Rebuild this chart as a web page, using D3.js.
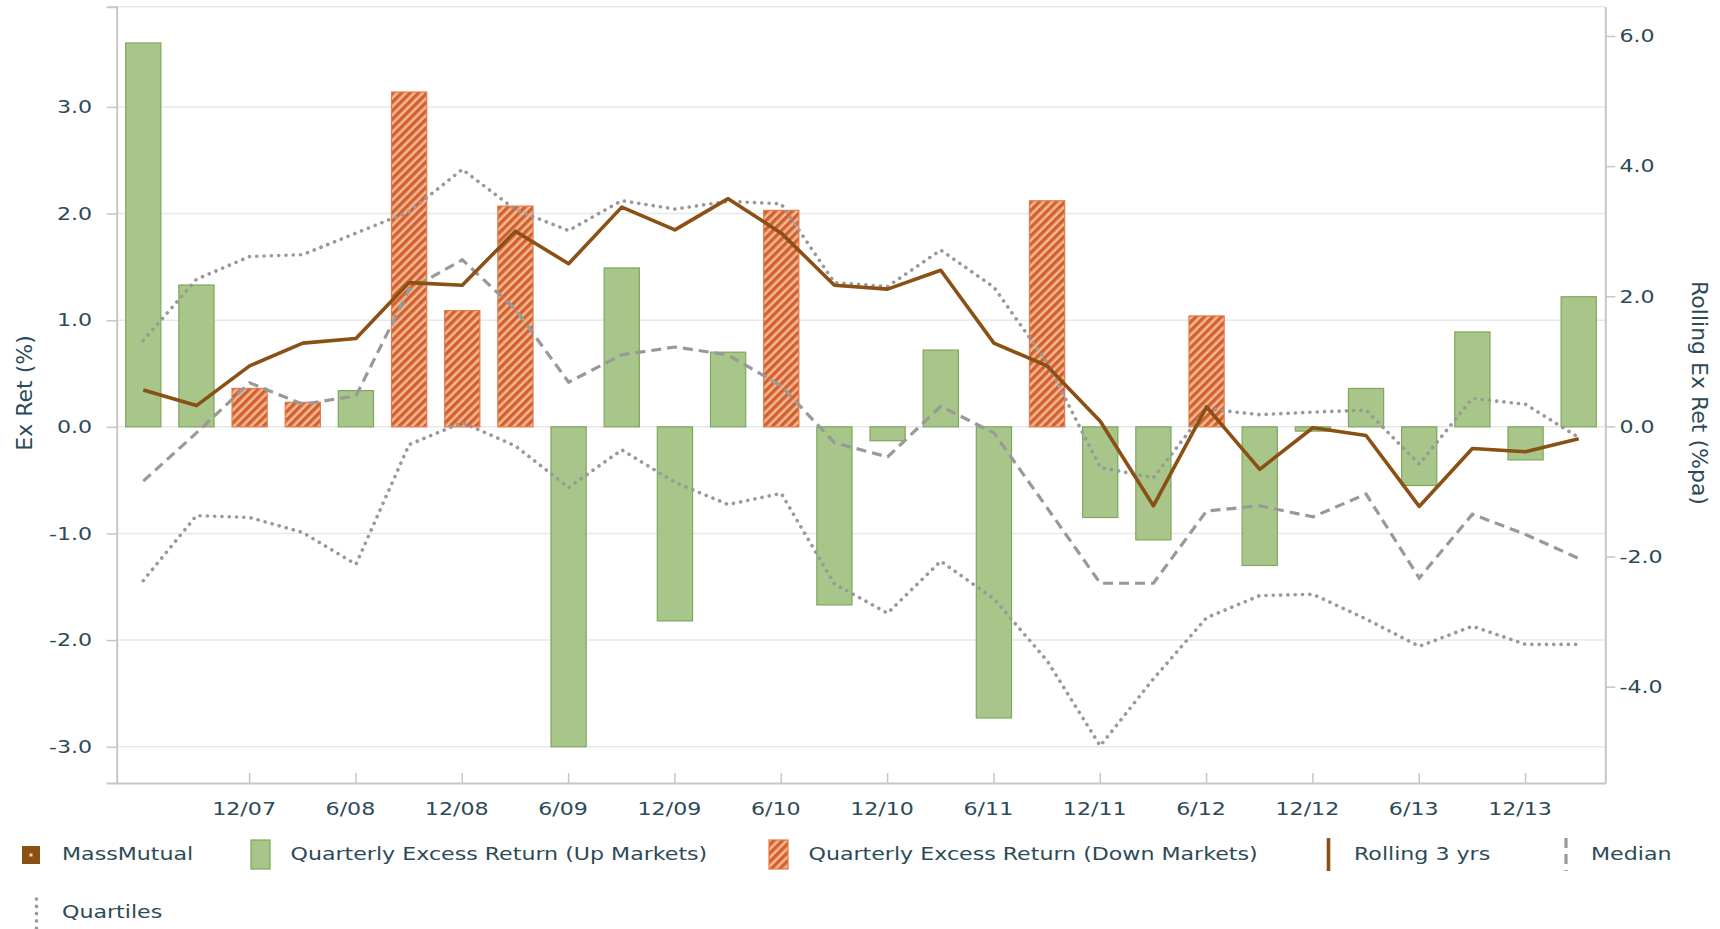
<!DOCTYPE html>
<html><head><meta charset="utf-8">
<script src="https://cdn.jsdelivr.net/npm/d3@7"></script>
<style>
html,body{margin:0;padding:0;background:#fff;}
svg{display:block;}
text{font-family:"DejaVu Sans",Verdana,sans-serif;fill:#2c4a57;}
</style></head><body>
<svg id="chart" width="1720" height="929"></svg>
<script>
// ---------------- data ----------------
const quarters = ["6/07","9/07","12/07","3/08","6/08","9/08","12/08","3/09","6/09","9/09","12/09","3/10","6/10","9/10","12/10","3/11","6/11","9/11","12/11","3/12","6/12","9/12","12/12","3/13","6/13","9/13","12/13","3/14"];
const excessReturn = [3.60,1.33,0.36,0.23,0.34,3.14,1.09,2.07,-3.00,1.49,-1.82,0.70,2.03,-1.67,-0.13,0.72,-2.73,2.12,-0.85,-1.06,1.04,-1.30,-0.04,0.36,-0.55,0.89,-0.31,1.22];
const marketDir = ["up","up","down","down","up","down","down","down","up","up","up","up","down","up","up","up","up","down","up","up","down","up","up","up","up","up","up","up"];
const rolling3y = [0.56,0.32,0.93,1.28,1.35,2.21,2.17,3.00,2.50,3.37,3.02,3.50,2.97,2.17,2.11,2.40,1.28,0.93,0.08,-1.22,0.30,-0.66,-0.02,-0.14,-1.23,-0.34,-0.39,-0.19];
const median = [-0.84,-0.10,0.67,0.34,0.47,2.10,2.56,1.80,0.68,1.10,1.22,1.10,0.62,-0.25,-0.47,0.31,-0.10,-1.25,-2.41,-2.41,-1.30,-1.22,-1.39,-1.04,-2.33,-1.35,-1.66,-2.03];
const upperQuartile = [1.32,2.26,2.61,2.64,2.97,3.30,3.95,3.33,3.01,3.47,3.34,3.46,3.42,2.21,2.15,2.71,2.14,0.98,-0.63,-0.79,0.27,0.18,0.22,0.25,-0.58,0.43,0.34,-0.17];
const lowerQuartile = [-2.37,-1.37,-1.40,-1.63,-2.12,-0.28,0.06,-0.30,-0.94,-0.36,-0.86,-1.20,-1.03,-2.42,-2.87,-2.07,-2.65,-3.60,-4.91,-3.88,-2.94,-2.60,-2.58,-2.96,-3.38,-3.07,-3.35,-3.35];
const leftTicks = [-3,-2,-1,0,1,2,3];
const rightTicks = [-4,-2,0,2,4,6];
const xTickLabels = ["12/07","6/08","12/08","6/09","12/09","6/10","12/10","6/11","12/11","6/12","12/12","6/13","12/13"];
const leftTitle = "Ex Ret (%)";
const rightTitle = "Rolling Ex Ret (%pa)";
const legendLabels = ["MassMutual","Quarterly Excess Return (Up Markets)","Quarterly Excess Return (Down Markets)","Rolling 3 yrs","Median","Quartiles"];

// ---------------- layout ----------------
const plot = {left:116.7, right:1605.3, top:6.7, bottom:783};
const SX = 1.23;
const C = {green:"#a9c68a", greenStroke:"#7ea75c", orange:"#d4602c", orangeLight:"#f2b898",
           brown:"#8a5014", gray:"#999999", grid:"#e8e8e8", axis:"#c6c6c6", text:"#2c4a57"};

const svg = d3.select("#chart");
const defs = svg.append("defs");
const pat = defs.append("pattern").attr("id","hatch").attr("patternUnits","userSpaceOnUse")
  .attr("width",6).attr("height",6).attr("patternTransform","rotate(45)");
pat.append("rect").attr("width",6).attr("height",6).attr("fill",C.orangeLight);
pat.append("rect").attr("x",0).attr("y",0).attr("width",3.4).attr("height",6).attr("fill",C.orange);

const x = d3.scaleBand().domain(quarters).range([plot.left, plot.right]).paddingInner(0.338).paddingOuter(0.169);
const yL = d3.scaleLinear().domain([-3.34, 3.94]).range([plot.bottom, plot.top]);
const yR = d3.scaleLinear().domain([-5.48, 6.45]).range([plot.bottom, plot.top]);
const cx = q => x(q) + x.bandwidth()/2;

// gridlines
svg.append("g").selectAll("line").data(leftTicks.concat([yL.domain()[1]])).join("line")
  .attr("x1", plot.left).attr("x2", plot.right)
  .attr("y1", d => yL(d)).attr("y2", d => yL(d))
  .attr("stroke", C.grid).attr("stroke-width", 1.5);

// bars
const barData = quarters.map((q,i) => ({q, v: excessReturn[i], dir: marketDir[i]}));
svg.append("g").selectAll("rect").data(barData).join("rect")
  .attr("x", d => x(d.q)).attr("width", x.bandwidth())
  .attr("y", d => Math.min(yL(0), yL(d.v)))
  .attr("height", d => Math.abs(yL(d.v) - yL(0)))
  .attr("fill", d => d.dir === "up" ? C.green : "url(#hatch)")
  .attr("stroke", d => d.dir === "up" ? C.greenStroke : "#e57a4a")
  .attr("stroke-width", 1.2);

// lines (right axis)
const lineGen = vals => d3.line().x((d,i) => cx(quarters[i])).y(d => yR(d))(vals);
const g = svg.append("g").attr("fill","none");
[upperQuartile, lowerQuartile].forEach(arr => {
  g.append("path").attr("d", lineGen(arr)).attr("stroke", C.gray).attr("stroke-width", 3.6)
    .attr("stroke-linecap","round").attr("stroke-dasharray","0.1,7.2");
});
g.append("path").attr("d", lineGen(median)).attr("stroke", "#999999").attr("stroke-width", 3.2)
  .attr("stroke-dasharray","10,6");
g.append("path").attr("d", lineGen(rolling3y)).attr("stroke", C.brown).attr("stroke-width", 3.6)
  .attr("stroke-linejoin","round");

// axes
const fmt = d => d.toFixed(1);
function styleAxis(sel){
  sel.select(".domain").attr("stroke", C.axis).attr("stroke-width", 2);
  sel.selectAll(".tick line").attr("stroke", C.axis).attr("stroke-width", 1.5);
  sel.selectAll("text").attr("fill", C.text).style("font-size","18px")
     .attr("font-family", null);
}
const axL = svg.append("g").attr("transform", `translate(${plot.left},0)`)
  .call(d3.axisLeft(yL).tickValues(leftTicks).tickSize(10).tickSizeOuter(10).tickPadding(10).tickFormat(fmt));
styleAxis(axL);
axL.selectAll(".tick text").attr("transform", `scale(${SX},1)`);

const axR = svg.append("g").attr("transform", `translate(${plot.right},0)`)
  .call(d3.axisRight(yR).tickValues(rightTicks).tickSizeInner(10).tickSizeOuter(0).tickPadding(1.5).tickFormat(fmt));
styleAxis(axR);
axR.selectAll(".tick text").attr("transform", `scale(${SX},1)`);

const axB = svg.append("g").attr("transform", `translate(0,${plot.bottom})`)
  .call(d3.axisBottom(x).tickValues(xTickLabels).tickSizeInner(-10).tickSizeOuter(0).tickPadding(19));
styleAxis(axB);
axB.selectAll(".tick text").attr("x", -4.5).attr("transform", `scale(${SX},1)`);

// axis titles
svg.append("text").attr("transform", `translate(24,393) rotate(-90)`)
  .attr("text-anchor","middle").attr("dominant-baseline","central")
  .style("font-size","22px").text(leftTitle);
svg.append("text").attr("transform", `translate(1699,393) rotate(90)`)
  .attr("text-anchor","middle").attr("dominant-baseline","central")
  .style("font-size","22px").text(rightTitle);

// legend
const lg = svg.append("g");
function legText(x0, y0, s){
  lg.append("text").attr("transform", `translate(${x0},${y0}) scale(${SX},1)`)
    .style("font-size","18px").text(s);
}
// MassMutual
lg.append("rect").attr("x",22).attr("y",846).attr("width",18).attr("height",18).attr("fill",C.brown);
lg.append("rect").attr("x",29.5).attr("y",853.5).attr("width",3).attr("height",3).attr("fill","#e8d9c8");
legText(62, 860, legendLabels[0]);
// Up markets
lg.append("rect").attr("x",251).attr("y",840).attr("width",19).attr("height",29).attr("fill",C.green).attr("stroke",C.greenStroke).attr("stroke-width",1.2);
legText(290.5, 860, legendLabels[1]);
// Down markets
lg.append("rect").attr("x",769).attr("y",840).attr("width",19).attr("height",29).attr("fill","url(#hatch)").attr("stroke","#e57a4a").attr("stroke-width",1.2);
legText(808.5, 860, legendLabels[2]);
// Rolling
lg.append("line").attr("x1",1328.5).attr("x2",1328.5).attr("y1",838).attr("y2",871).attr("stroke",C.brown).attr("stroke-width",3.6);
legText(1354, 860, legendLabels[3]);
// Median
lg.append("line").attr("x1",1566).attr("x2",1566).attr("y1",838).attr("y2",871).attr("stroke","#999999").attr("stroke-width",3.2).attr("stroke-dasharray","10,6");
legText(1591, 860, legendLabels[4]);
// Quartiles
lg.append("line").attr("x1",36.5).attr("x2",36.5).attr("y1",899).attr("y2",929).attr("stroke",C.gray).attr("stroke-width",3.6).attr("stroke-linecap","round").attr("stroke-dasharray","0.1,7.2");
legText(62, 918, legendLabels[5]);
</script>
</body></html>
